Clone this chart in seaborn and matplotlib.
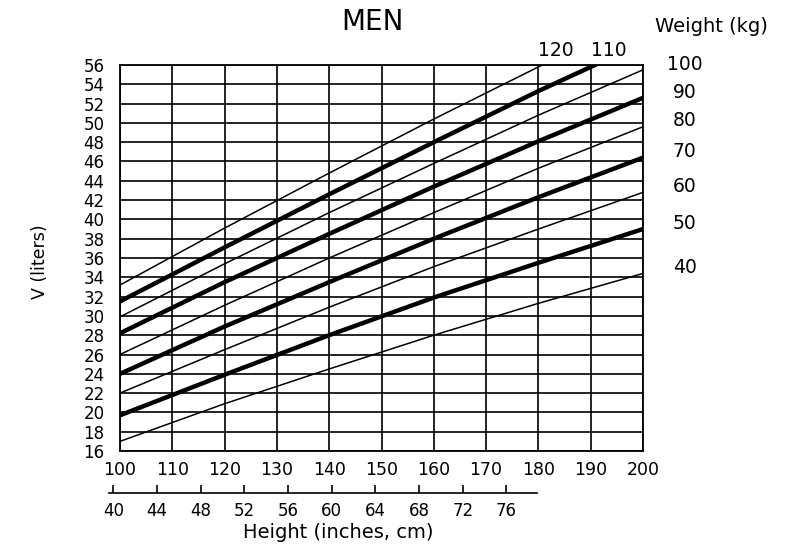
import numpy as np
import pandas as pd
import matplotlib
matplotlib.use("Agg")
import matplotlib.pyplot as plt
import seaborn as sns

# ---- data ----
heights_cm = [100, 120, 140, 160, 180, 200]
weights_kg = [40, 50, 60, 70, 80, 90, 100, 110, 120]
v_40 = [17.0, 20.9, 24.5, 28.0, 31.3, 34.4]
v_50 = [19.7, 23.9, 28.0, 31.9, 35.5, 39.0]
v_60 = [22.0, 26.5, 30.9, 35.1, 39.0, 42.8]
v_70 = [24.0, 28.9, 33.5, 38.0, 42.3, 46.4]
v_80 = [26.0, 31.1, 36.0, 40.7, 45.3, 49.6]
v_90 = [28.2, 33.5, 38.5, 43.4, 48.1, 52.6]
v_100 = [29.9, 35.4, 40.7, 45.8, 50.8, 55.5]
v_110 = [31.5, 37.1, 42.6, 48.0, 53.3, 58.3]
v_120 = [33.2, 39.1, 44.8, 50.4, 55.8, 61.0]
thick_weights = [50, 70, 90, 110]
top_labelled = [110, 120]
cm_ticks = list(range(100, 201, 10))
v_ticks = list(range(16, 57, 2))
inch_ticks = list(range(40, 77, 4))

series = [v_40, v_50, v_60, v_70, v_80, v_90, v_100, v_110, v_120]
rows = []
for w, vals in zip(weights_kg, series):
    for h, v in zip(heights_cm, vals):
        rows.append({"height": h, "V": v, "weight": w,
                     "style": "thick" if w in thick_weights else "thin"})
df = pd.DataFrame(rows)

sns.set_theme(style="white")
plt.rcParams["font.family"] = ["DejaVu Sans"]

W, H = 800, 552
fig = plt.figure(figsize=(W / 100, H / 100), dpi=100)
ax = fig.add_axes([120 / W, 1 - 451 / H, (643 - 120) / W, (451 - 65) / H])

sns.lineplot(data=df, x="height", y="V", units="weight", estimator=None,
             size="style", sizes={"thick": 3.2, "thin": 1.1}, color="black",
             legend=False, ax=ax, sort=True)

ax.set_xlim(100, 200)
ax.set_ylim(16, 56)
ax.set_xticks(cm_ticks)
ax.set_yticks(v_ticks)
ax.set_xticklabels([str(t) for t in cm_ticks], fontsize=12.5)
ax.set_yticklabels([str(t) for t in v_ticks], fontsize=12)
ax.tick_params(axis="both", length=0, colors="black")
ax.tick_params(axis="x", pad=7)
ax.tick_params(axis="y", pad=11)
ax.grid(True, color="black", linewidth=1.2)
ax.set_axisbelow(True)
for s in ax.spines.values():
    s.set_color("black")
    s.set_linewidth(1.3)
ax.set_xlabel("")
ax.set_ylabel("")

# weight labels at right
for w, vals in zip(weights_kg, series):
    if w <= 100:
        ax.text(208, vals[-1] + 0.6, str(w), ha="center", va="center",
                fontsize=13.5, color="black", clip_on=False)
# weight labels above the top edge
for w, vals in zip(weights_kg, series):
    if w in top_labelled:
        xc = float(np.interp(56, vals, heights_cm))
        ax.text(xc + 2.6, 57.55, str(w), ha="center", va="center",
                fontsize=13.5, color="black", clip_on=False)

# inches axis (drawn as in the reference)
ax2 = fig.add_axes([109 / W, 1 - 493.3 / H, (537 - 109) / W, 10 / H])
ax2.set_xlim(39.6, 78.8)
ax2.set_ylim(0, 1)
ax2.set_facecolor("none")
for k in ["top", "left", "right"]:
    ax2.spines[k].set_visible(False)
ax2.spines["bottom"].set_color("black")
ax2.spines["bottom"].set_linewidth(1.2)
ax2.set_yticks([])
ax2.set_xticks(inch_ticks)
ax2.set_xticklabels([str(t) for t in inch_ticks], fontsize=12)
ax2.tick_params(axis="x", bottom=True, top=False, direction="in", length=6,
                width=1.2, colors="black", pad=6)

fig.text(372 / W, 1 - 22 / H, "MEN", ha="center", va="center",
         fontsize=20, color="black")
fig.text(711 / W, 1 - 27 / H, "Weight (kg)", ha="center", va="center",
         fontsize=14, color="black")
fig.text(338 / W, 1 - 532 / H, "Height (inches, cm)", ha="center",
         va="center", fontsize=14, color="black")
fig.text(40 / W, 1 - 262 / H, "V (liters)", ha="center", va="center",
         rotation=90, fontsize=12.5, color="black")

fig.savefig("out.png", dpi=100, facecolor="white")
